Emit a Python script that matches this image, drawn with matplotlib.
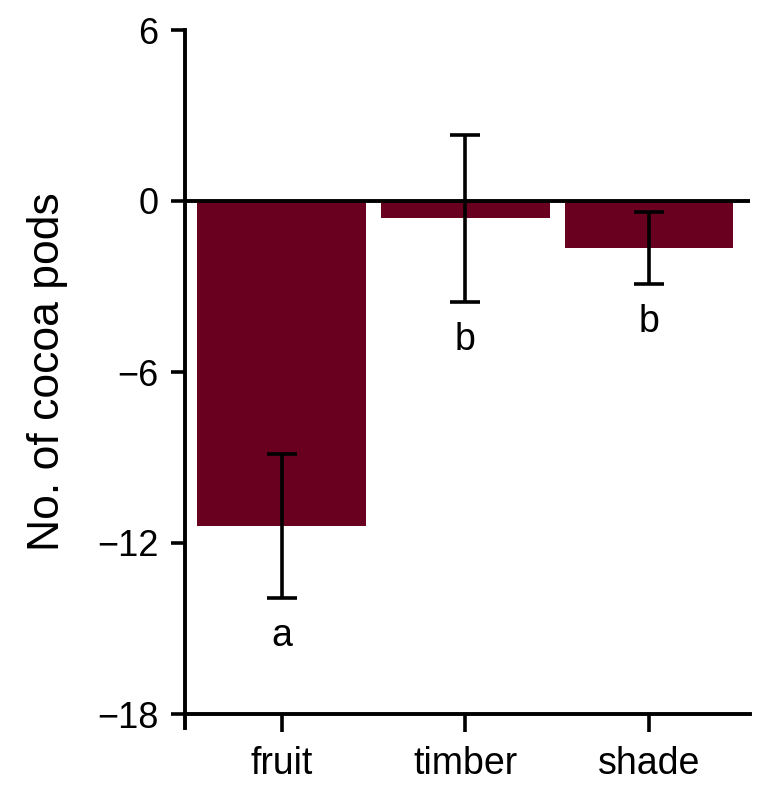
import matplotlib.pyplot as plt
import numpy as np

plt.rcParams['font.family'] = ['Liberation Sans', 'DejaVu Sans']

# data
categories = ['fruit', 'timber', 'shade']
means = [-11.4, -0.6, -1.65]
errors = [2.53, 2.93, 1.26]
letters = ['a', 'b', 'b']

bar_color = '#6a0020'

fig = plt.figure(figsize=(7.7, 7.93), dpi=100)
ax = fig.add_axes([185 / 770, 1 - 714 / 793, 565 / 770, 684 / 793])

x = np.arange(len(categories))
ax.bar(x, means, width=0.92, color=bar_color, zorder=2)
ax.errorbar(x, means, yerr=errors, fmt='none', ecolor='black',
            elinewidth=2.6, capsize=11, capthick=2.6, zorder=4)
ax.axhline(0, color='black', lw=2.8, zorder=3)

# significance letters under the error bars
for xi, m, e, lab in zip(x, means, errors, letters):
    ax.text(xi, m - e - 1.35, lab, ha='center', va='center', fontsize=27)

ax.set_xlim(-0.527, 2.55)
ax.set_ylim(-18, 6)
ax.set_yticks([6, 0, -6, -12, -18])
ax.set_yticklabels(['6', '0', '\u22126', '\u221212', '\u221218'])
ax.set_xticks(x)
ax.set_xticklabels(categories)

for s in ['top', 'right']:
    ax.spines[s].set_visible(False)
for s in ['left', 'bottom']:
    ax.spines[s].set_linewidth(2.8)
ax.spines['left'].set_bounds(-18.5, 6)

ax.tick_params(axis='y', direction='out', length=10, width=2.6, labelsize=26, pad=9)
ax.tick_params(axis='x', direction='out', length=13, width=2.6, labelsize=27, pad=10)

ax.set_ylabel('No. of cocoa pods', fontsize=32)
ax.yaxis.set_label_coords(-0.207, 0.5)

fig.savefig('out.png', dpi=100)
